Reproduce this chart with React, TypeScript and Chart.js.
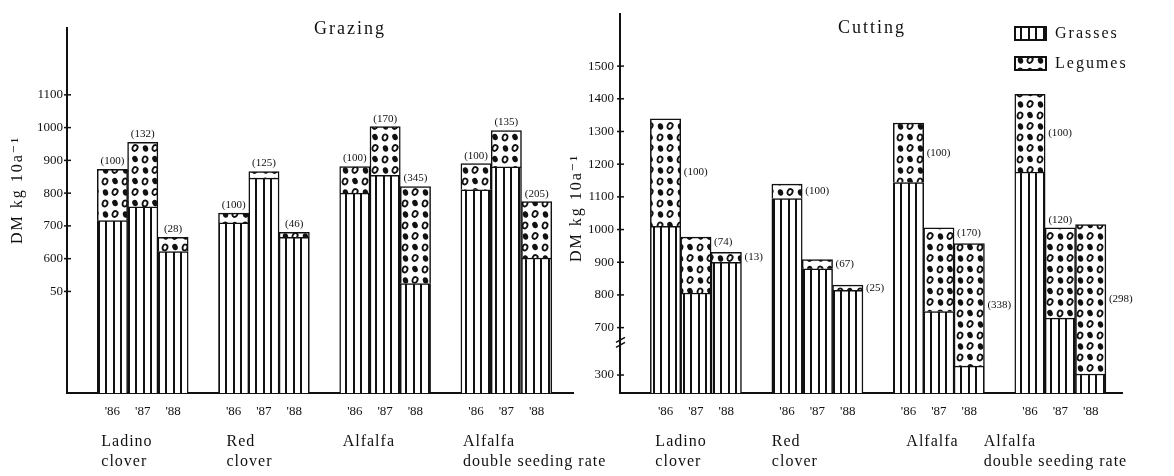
import React, { useEffect, useRef } from 'react';
import { Chart, registerables } from 'chart.js';

Chart.register(...registerables);

// ---------------- data ----------------
const GROUPS: string[][] = [
  ['Ladino', 'clover'],
  ['Red', 'clover'],
  ['Alfalfa'],
  ['Alfalfa', 'double seeding rate'],
];
const YEARS = ["'86", "'87", "'88"];
const SERIES = ['Grasses', 'Legumes'];
const Y_TITLE = 'DM kg 10a⁻¹';

// Grazing, DM kg/10a (grass part and grass + legume total), group x year
const GRAZING_GRASSES = [716, 758, 622, 709, 846, 665, 800, 854, 524, 810, 880, 602];
const GRAZING_TOTALS = [873, 955, 665, 739, 866, 680, 881, 1003, 820, 890, 991, 774];
const GRAZING_INDEX = ['(100)', '(132)', '(28)', '(100)', '(125)', '(46)', '(100)', '(170)', '(345)', '(100)', '(135)', '(205)'];
const GRAZING_TICKS = [500, 600, 700, 800, 900, 1000, 1100];
const GRAZING_TICK_LABELS = ['50', '600', '700', '800', '900', '1000', '1100'];

// Cutting, DM kg/10a
const CUTTING_GRASSES = [1010, 806, 900, 1095, 880, 814, 1144, 749, 327, 1176, 729, 303];
const CUTTING_TOTALS = [1339, 977, 930, 1139, 908, 830, 1326, 1005, 957, 1414, 1005, 1015];
const CUTTING_INDEX = ['(100)', '(74)', '(13)', '(100)', '(67)', '(25)', '(100)', '(170)', '(338)', '(100)', '(120)', '(298)'];
const CUTTING_TICKS = [300, 700, 800, 900, 1000, 1100, 1200, 1300, 1400, 1500];
const CUTTING_TICK_LABELS = ['300', '700', '800', '900', '1000', '1100', '1200', '1300', '1400', '1500'];

// broken axis of the cutting panel: values below BREAK_AT are drawn shifted up
const CUT_BREAK_AT = 700;
const CUT_SHIFT = 255;

// ---------------- style / layout ----------------
const INK = '#111';
const FONT = "'Liberation Serif', 'DejaVu Serif', serif";

let grassPat: CanvasPattern | null = null;
let legumePat: CanvasPattern | null = null;
function patterns() {
  if (!grassPat) {
    const c = document.createElement('canvas');
    c.width = 15; c.height = 8;
    const g = c.getContext('2d')!;
    g.fillStyle = '#fff'; g.fillRect(0, 0, 15, 8);
    g.fillStyle = INK; g.fillRect(0, 0, 2, 8); g.fillRect(8, 0, 2, 8);
    grassPat = g.createPattern(c, 'repeat');
  }
  if (!legumePat) {
    const c = document.createElement('canvas');
    c.width = 20; c.height = 22;
    const g = c.getContext('2d')!;
    g.fillStyle = '#fff'; g.fillRect(0, 0, 20, 22);
    g.strokeStyle = INK; g.fillStyle = INK; g.lineWidth = 1.9;
    const dots: [number, number, number, boolean][] = [
      [5, 5.5, 0.3, false], [15, 5, -0.4, true], [5.5, 16.5, -0.2, true], [15, 16, 0.5, false],
    ];
    dots.forEach(([x, y, r, f]) => {
      g.beginPath();
      g.ellipse(x, y, f ? 2.7 : 2.4, f ? 3.3 : 3.1, r, 0, Math.PI * 2);
      if (f) g.fill(); else g.stroke();
    });
    legumePat = g.createPattern(c, 'repeat');
  }
  return { grass: grassPat!, legume: legumePat! };
}

const slot = (i: number) => Math.floor(i / 3) * 4 + (i % 3) + 1;

type Panel = {
  title: string;
  grasses: number[]; totals: number[]; index: string[];
  ticks: number[]; tickLabels: string[];
  toAxis: (v: number) => number;
  L: any;
};

const GRAZING: Panel = {
  title: 'Grazing',
  grasses: GRAZING_GRASSES, totals: GRAZING_TOTALS, index: GRAZING_INDEX,
  ticks: GRAZING_TICKS, tickLabels: GRAZING_TICK_LABELS,
  toAxis: (v) => v,
  L: {
    canvasLeft: 0, canvasWidth: 640, axisX: 67, top: 28, right: 573, bottom: 393,
    yMin: 190, yMax: 1304, xMax: 16.2, tickPad: 4,
    titleX: 350, titleY: 29, yTitleX: 18, yTitleY: 190,
    catOffsets: [4, 8, 3, 2],
    labelModes: Array(12).fill('above'),
    legend: false, breakAt: null,
  },
};

const CUTTING: Panel = {
  title: 'Cutting',
  grasses: CUTTING_GRASSES, totals: CUTTING_TOTALS, index: CUTTING_INDEX,
  ticks: CUTTING_TICKS, tickLabels: CUTTING_TICK_LABELS,
  toAxis: (v) => (v < CUT_BREAK_AT ? v + CUT_SHIFT : v),
  L: {
    canvasLeft: 555, canvasWidth: 619, axisX: 620, top: 8, right: 1122, bottom: 393,
    yMin: 500, yMax: 1660, xMax: 16.03, tickPad: 6,
    titleX: 872, titleY: 28, yTitleX: 577, yTitleY: 208,
    catOffsets: [5, 0, 13, -31],
    labelModes: ['mid', 'top', 'mid', 'mid', 'mid', 'mid', 'mid', 'top', 'mid', 'mid', 'above', 'mid'],
    legend: true, breakAt: 655,
  },
};

function decorPlugin(p: Panel) {
  const L = p.L;
  return {
    id: 'decor',
    afterDraw(chart: any) {
      const ctx: CanvasRenderingContext2D = chart.ctx;
      const xs = chart.scales.x, ys = chart.scales.y;
      const off = L.canvasLeft;
      const ax = chart.chartArea.left;
      const pats = patterns();
      ctx.save();
      ctx.fillStyle = INK; ctx.strokeStyle = INK;
      // tick crosses on the value axis
      ctx.lineWidth = 1.5;
      p.ticks.forEach((t) => {
        const y = ys.getPixelForValue(p.toAxis(t));
        ctx.beginPath(); ctx.moveTo(ax - 3, y); ctx.lineTo(ax + 4, y); ctx.stroke();
      });
      // axis break
      if (L.breakAt != null) {
        const y = ys.getPixelForValue(L.breakAt);
        ctx.lineWidth = 1.6;
        [-2.5, 2.5].forEach((d) => {
          ctx.beginPath(); ctx.moveTo(ax - 4, y + d + 2.5); ctx.lineTo(ax + 5, y + d - 2.5); ctx.stroke();
        });
      }
      // bar index labels
      (ctx as any).letterSpacing = '0px';
      ctx.font = `11px ${FONT}`;
      const segs = chart.getDatasetMeta(1).data;
      segs.forEach((el: any, i: number) => {
        const { x, y, base, width } = el.getProps(['x', 'y', 'base', 'width'], true);
        const mode = L.labelModes[i];
        ctx.textBaseline = 'middle';
        if (mode === 'above') {
          ctx.textAlign = 'center';
          ctx.fillText(p.index[i], x, y - 8);
        } else if (mode === 'top') {
          ctx.textAlign = 'left';
          ctx.fillText(p.index[i], x + width / 2 + 3, y + 5);
        } else {
          ctx.textAlign = 'left';
          ctx.fillText(p.index[i], x + width / 2 + 3, (y + base) / 2);
        }
      });
      // category labels
      ctx.font = `16px ${FONT}`;
      (ctx as any).letterSpacing = '1px';
      ctx.textAlign = 'left'; ctx.textBaseline = 'middle';
      GROUPS.forEach((lines, g) => {
        const x0 = xs.getPixelForValue(slot(g * 3) - 0.5) + L.catOffsets[g];
        lines.forEach((t, k) => ctx.fillText(t, x0, 442 + k * 20));
      });
      // title
      ctx.font = `18px ${FONT}`;
      (ctx as any).letterSpacing = '2px';
      ctx.textAlign = 'center';
      ctx.fillText(p.title, L.titleX - off, L.titleY);
      // y title
      ctx.font = `16px ${FONT}`;
      ctx.save();
      ctx.translate(L.yTitleX - off, L.yTitleY);
      ctx.rotate(-Math.PI / 2);
      ctx.textAlign = 'center';
      ctx.fillText(Y_TITLE, 0, 0);
      ctx.restore();
      // legend
      if (L.legend) {
        const items = [pats.grass, pats.legume];
        SERIES.forEach((name, k) => {
          const bx = 1015 - off, by = 27 + k * 30;
          ctx.fillStyle = items[k];
          ctx.fillRect(bx, by, 31, 13);
          ctx.lineWidth = 2; ctx.strokeStyle = INK;
          ctx.strokeRect(bx, by, 31, 13);
          ctx.fillStyle = INK;
          ctx.textAlign = 'left';
          ctx.fillText(name, bx + 40, by + 7);
        });
      }
      (ctx as any).letterSpacing = '0px';
      ctx.restore();
    },
  };
}

function buildConfig(p: Panel): any {
  const L = p.L;
  const pats = patterns();
  const positions = p.grasses.map((_, i) => slot(i));
  const grassAxis = p.grasses.map((v) => p.toAxis(v));
  const legumeAxis = p.totals.map((t, i) => p.toAxis(t) - p.toAxis(p.grasses[i]));
  const tickFont = { family: FONT, size: 13 };
  const common = { borderColor: INK, borderWidth: 1.5, barPercentage: 1, categoryPercentage: 1, stack: 's' };
  return {
    type: 'bar',
    data: {
      labels: positions,
      datasets: [
        { label: SERIES[0], data: grassAxis, backgroundColor: pats.grass, ...common },
        { label: SERIES[1], data: legumeAxis, backgroundColor: pats.legume, ...common },
      ],
    },
    options: {
      animation: false,
      responsive: false,
      maintainAspectRatio: false,
      layout: { padding: { top: L.top, right: L.canvasWidth - (L.right - L.canvasLeft), left: 0, bottom: 0 } },
      plugins: { legend: { display: false }, tooltip: { enabled: false }, title: { display: false } },
      scales: {
        x: {
          type: 'linear', stacked: true, offset: false, bounds: 'data',
          min: -0.5, max: L.xMax, z: 1,
          afterBuildTicks: (s: any) => { s.ticks = positions.map((v) => ({ value: v })); },
          afterFit: (s: any) => { s.height = 476 - L.bottom; },
          ticks: {
            autoSkip: false, maxRotation: 0, padding: 11, color: INK, font: tickFont,
            callback: (_v: any, i: number) => YEARS[i % 3],
          },
          grid: { display: false, drawTicks: false, offset: false },
          border: { display: true, color: INK, width: 2 },
        },
        y: {
          type: 'linear', stacked: true, bounds: 'data', min: L.yMin, max: L.yMax, z: 1,
          afterBuildTicks: (s: any) => { s.ticks = p.ticks.map((v) => ({ value: p.toAxis(v) })); },
          afterFit: (s: any) => { s.width = L.axisX - L.canvasLeft; },
          ticks: {
            padding: L.tickPad, color: INK, font: tickFont,
            callback: (_v: any, i: number) => p.tickLabels[i],
          },
          grid: { display: false, drawTicks: false },
          border: { display: true, color: INK, width: 2 },
        },
      },
    },
    plugins: [decorPlugin(p)],
  };
}

export default function App() {
  const leftRef = useRef<HTMLCanvasElement>(null);
  const rightRef = useRef<HTMLCanvasElement>(null);
  useEffect(() => {
    const charts = [
      new Chart(leftRef.current!, buildConfig(GRAZING)),
      new Chart(rightRef.current!, buildConfig(CUTTING)),
    ];
    return () => charts.forEach((c) => c.destroy());
  }, []);
  return (
    <div style={{ position: 'absolute', left: 0, top: 0, width: 1174, height: 476, background: '#fff', overflow: 'hidden' }}>
      <canvas ref={leftRef} width={640} height={476} style={{ position: 'absolute', left: 0, top: 0 }} />
      <canvas ref={rightRef} width={619} height={476} style={{ position: 'absolute', left: 555, top: 0 }} />
    </div>
  );
}
